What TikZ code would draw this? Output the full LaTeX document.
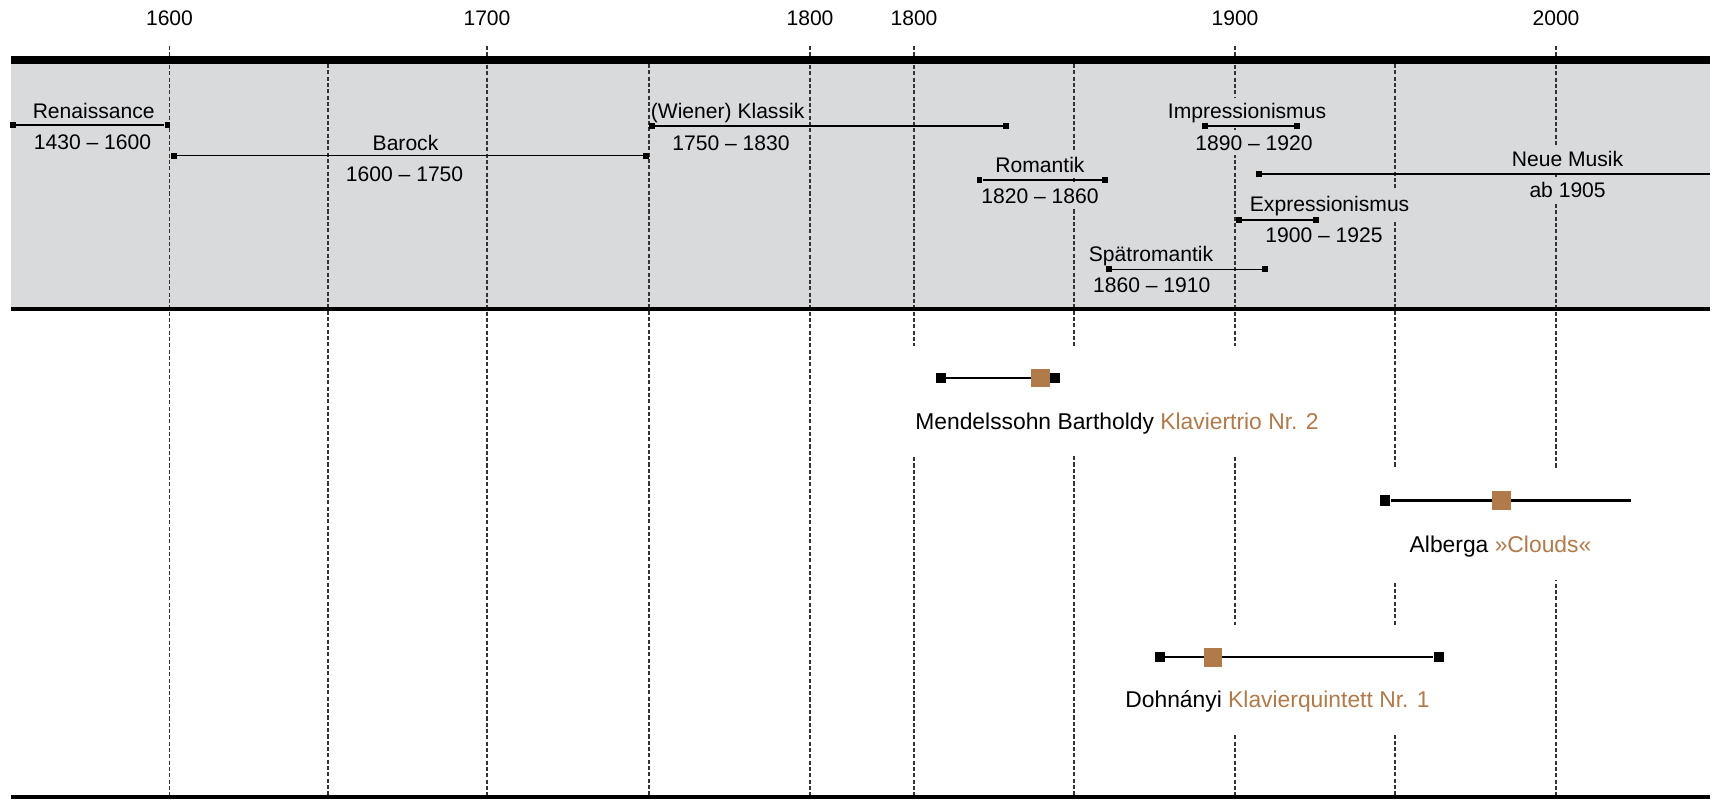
\documentclass[tikz,border=0pt]{standalone}
\usepackage{fontspec}
\setmainfont{Liberation Sans}
\usetikzlibrary{backgrounds,fit}
\definecolor{BandGrey}{HTML}{D9DADC}
\definecolor{WorkBrown}{HTML}{B07A4A}
\pgfdeclarelayer{grid}
\pgfdeclarelayer{background}
\pgfsetlayers{grid,background,main}

\begin{document}
\begin{tikzpicture}[
        x=0.02cm, y=-0.02cm,
        font=\fontsize{12}{14}\selectfont,
        gridline/.style={draw=black!80, line width=0.7pt, dash pattern=on 2.3pt off 1.3pt},
        rule/.style={line width=#1, line cap=butt},
        year/.style={anchor=base, inner sep=0pt},
        era/.style={anchor=base, fill=BandGrey, inner xsep=0.5pt, inner ysep=3pt},
        eraend/.style={fill=black, minimum size=3.4pt, inner sep=0pt},
        erabar/.style={line width=0.75pt},
        work/.style={anchor=base, inner sep=0pt, font=\fontsize{13}{15}\selectfont},
        workend/.style={fill=black, minimum size=6pt, inner sep=0pt},
        workmark/.style={fill=WorkBrown, minimum size=10.8pt, inner sep=0pt},
        workbar/.style={line width=1.4pt},
        workbox/.style={fill=white, inner sep=0.44cm},
    ]
    \useasboundingbox (0,0) rectangle (1715,799);

    % band, grid and rules
    \begin{pgfonlayer}{grid}
        \fill[BandGrey] (11,64) rectangle (1710,308);
        \foreach \x in {169.5,487,810,914,1235,1556}
            \draw[gridline] (\x,46) -- (\x,797);
        \foreach \x in {328,649,1074,1395}
            \draw[gridline] (\x,64) -- (\x,797);
        \draw[rule=4.5pt] (11,60) -- (1710,60);
        \draw[rule=2.3pt] (11,309) -- (1710,309);
        \draw[rule=2.3pt] (11,797) -- (1710,797);
    \end{pgfonlayer}

    % years
    \foreach \x/\yr [count=\i] in {169.5/1600, 487/1700, 810/1800, 914/1800, 1235/1900, 1556/2000}
        \node[year] (year\i) at (\x,25) {\yr};

    % eras
    \node[era] (ren) at (93.7,118.3) {Renaissance};
    \node[era] (ren-d) at (92.5,149) {1430 – 1600};
    \node[eraend] (ren-a) at (13,125) {};
    \node[eraend] (ren-b) at (167.5,125) {};
    \draw[erabar] (ren-a) -- (ren-b);

    \node[era] (bar) at (405.5,150) {Barock};
    \node[era] (bar-d) at (404.6,181) {1600 – 1750};
    \node[eraend] (bar-a) at (174,155.7) {};
    \node[eraend] (bar-b) at (646,155.7) {};
    \draw[erabar] (bar-a) -- (bar-b);

    \node[era] (kla) at (727.6,118.3) {(Wiener) Klassik};
    \node[era] (kla-d) at (731,150) {1750 – 1830};
    \node[eraend] (kla-a) at (651.7,126) {};
    \node[eraend] (kla-b) at (1006.3,126) {};
    \draw[erabar] (kla-a) -- (kla-b);

    \node[era] (imp) at (1247,118.3) {Impressionismus};
    \node[era] (imp-d) at (1254,150) {1890 – 1920};
    \node[eraend] (imp-a) at (1205,126) {};
    \node[eraend] (imp-b) at (1297,126) {};
    \draw[erabar] (imp-a) -- (imp-b);

    \node[era] (rom) at (1040,172.7) {Romantik};
    \node[era] (rom-d) at (1040,203.3) {1820 – 1860};
    \node[eraend] (rom-a) at (979.5,180) {};
    \node[eraend] (rom-b) at (1105,180) {};
    \draw[erabar] (rom-a) -- (rom-b);

    \node[era] (neu) at (1567.5,166.7) {Neue Musik};
    \node[era] (neu-d) at (1567.6,197.3) {ab 1905};
    \node[eraend] (neu-a) at (1259,174) {};
    \coordinate (neu-b) at (1710,174);
    \draw[erabar] (neu-a) -- (neu-b);

    \node[era] (exp) at (1329.6,211.7) {Expressionismus};
    \node[era] (exp-d) at (1324,242.7) {1900 – 1925};
    \node[eraend] (exp-a) at (1239,220) {};
    \node[eraend] (exp-b) at (1316,220) {};
    \draw[erabar] (exp-a) -- (exp-b);

    \node[era] (spr) at (1151,261.7) {Spätromantik};
    \node[era] (spr-d) at (1151.7,292.7) {1860 – 1910};
    \node[eraend] (spr-a) at (1109,269.3) {};
    \node[eraend] (spr-b) at (1265,269.3) {};
    \draw[erabar] (spr-a) -- (spr-b);

    % works
    \node[workend] (men-a) at (940.8,378) {};
    \node[workend] (men-b) at (1055,378) {};
    \draw[workbar] (men-a) -- (men-b);
    \node[workmark] (men-m) at (1040.5,378) {};
    \node[work] (men) at (1117,429) {Mendelssohn Bartholdy \textcolor{WorkBrown}{Klaviertrio Nr. 2}};

    \node[workend] (alb-a) at (1384.9,500.7) {};
    \coordinate (alb-b) at (1631,500.7);
    \draw[workbar] (alb-a) -- (alb-b);
    \node[workmark] (alb-m) at (1501.5,500.7) {};
    \node[work] (alb) at (1500.5,552.7) {Alberga \textcolor{WorkBrown}{»Clouds«}};

    \node[workend] (doh-a) at (1159.8,657) {};
    \node[workend] (doh-b) at (1439,657) {};
    \draw[workbar] (doh-a) -- (doh-b);
    \node[workmark] (doh-m) at (1213,657) {};
    \node[work] (doh) at (1277.5,707.7) {Dohnányi \textcolor{WorkBrown}{Klavierquintett Nr. 1}};

    \begin{scope}[on background layer]
        \node[workbox, fit=(men-a)(men-b)(men-m)(men)] (men-box) {};
        \node[workbox, fit=(alb-a)(alb-b)(alb-m)(alb)] (alb-box) {};
        \node[workbox, fit=(doh-a)(doh-b)(doh-m)(doh)] (doh-box) {};
    \end{scope}

\end{tikzpicture}
\end{document}
